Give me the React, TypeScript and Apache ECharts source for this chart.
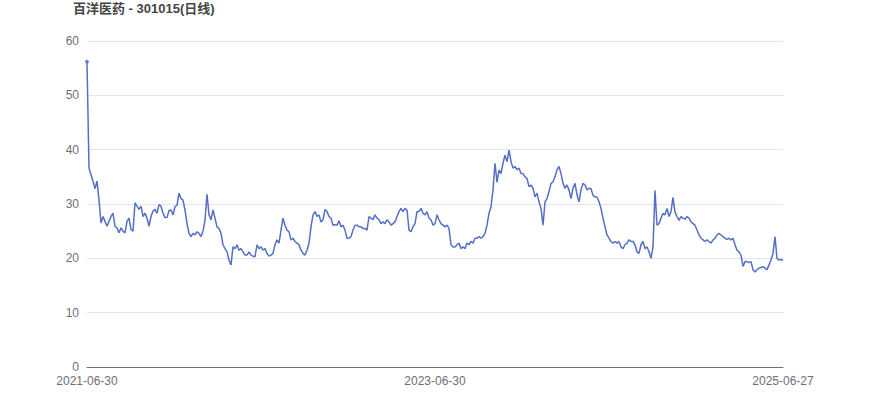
import React, { useEffect, useRef } from "react";
import * as echarts from "echarts";

const TITLE = "百洋医药 - 301015(日线)";
const START_DATE = "2021-06-30";
const END_DATE = "2025-06-27";
const DATE_STEP = 3; // every third trading weekday

const closes: number[] = [
  56.2, 36.6, 35.4, 34.2, 32.8, 34.2, 30.8, 26.5, 27.7, 26.8,
  25.9, 26.8, 27.7, 28.3, 25.9, 25.6, 24.7, 25.6, 25.0, 24.7,
  26.8, 27.4, 25.3, 25.0, 30.2, 29.6, 29.0, 29.6, 27.7, 28.3,
  27.4, 25.9, 27.7, 28.7, 29.0, 28.3, 29.9, 29.6, 28.3, 27.5,
  27.5, 28.8, 28.9, 28.0, 29.5, 29.8, 32.0, 31.0, 30.7, 28.9,
  26.4, 24.6, 24.0, 24.6, 24.3, 24.9, 24.6, 24.0, 25.0, 27.0,
  31.8, 28.0, 27.1, 28.9, 27.4, 25.8, 25.5, 24.6, 22.5, 21.8,
  21.2, 19.7, 18.8, 22.1, 21.8, 22.5, 21.5, 21.8, 21.2, 20.6,
  20.6, 21.2, 20.6, 20.4, 20.3, 22.5, 21.8, 22.1, 21.5, 21.8,
  20.9, 20.4, 20.6, 20.9, 22.5, 23.4, 22.8, 25.2, 27.4, 26.1,
  25.2, 24.9, 23.4, 23.7, 23.1, 22.8, 22.5, 21.5, 20.9, 20.6,
  21.5, 22.8, 25.8, 28.0, 28.6, 27.7, 28.0, 26.7, 27.1, 29.0,
  28.6, 27.7, 27.4, 26.1, 26.2, 26.1, 26.9, 25.8, 26.1, 25.2,
  23.7, 23.7, 24.0, 25.2, 26.1, 26.1, 25.8, 25.8, 25.5, 25.5,
  25.2, 27.7, 27.4, 27.1, 28.0, 27.4, 27.1, 26.4, 26.7, 26.4,
  27.1, 26.7, 26.1, 26.4, 26.7, 27.7, 28.6, 29.2, 28.6, 29.2,
  28.9, 25.2, 24.9, 25.8, 26.4, 28.6, 28.6, 29.2, 28.3, 28.0,
  28.6, 27.4, 27.1, 26.1, 26.4, 28.0, 27.1, 26.4, 26.1, 25.8,
  26.1, 25.5, 22.5, 22.1, 22.1, 22.5, 22.8, 21.8, 22.1, 21.8,
  22.8, 22.5, 23.1, 22.8, 23.7, 23.7, 24.0, 23.7, 24.0, 24.6,
  26.1, 28.3, 29.5, 32.6, 37.5, 34.0, 36.3, 35.6, 37.5, 39.0,
  37.8, 39.9, 37.8, 36.6, 36.9, 36.3, 36.6, 35.6, 35.6, 35.0,
  34.7, 33.2, 33.5, 32.9, 31.3, 32.0, 30.4, 29.2, 26.1, 30.4,
  31.0, 32.3, 33.8, 34.1, 35.0, 36.3, 36.9, 35.6, 33.8, 32.9,
  33.5, 32.6, 31.0, 32.9, 33.8, 31.7, 30.4, 32.6, 33.8, 33.5,
  32.6, 32.9, 32.8, 31.6, 31.3, 31.3, 30.4, 29.2, 27.4, 25.8,
  24.3, 23.7, 23.1, 22.8, 23.1, 22.8, 23.1, 22.1, 21.8, 22.5,
  22.8, 23.4, 23.1, 23.1, 22.5, 21.2, 20.9, 22.5, 23.1, 21.8,
  22.1, 21.2, 20.0, 22.1, 32.5, 26.1, 26.4, 27.4, 28.3, 28.0,
  29.2, 27.7, 28.6, 31.2, 28.5, 27.7, 27.0, 27.7, 27.4, 27.2,
  27.7, 27.4, 26.7, 26.4, 26.1, 25.2, 24.3, 23.7, 23.4, 23.1,
  23.4, 23.1, 22.8, 23.4, 23.7, 24.3, 24.6, 24.3, 24.0, 23.7,
  23.5, 23.7, 23.4, 23.7, 22.5, 21.5, 21.2, 20.6, 18.5, 19.4,
  19.4, 19.2, 19.4, 17.9, 17.5, 17.9, 18.2, 18.3, 18.5, 18.2,
  17.9, 18.8, 19.7, 20.9, 24.0, 20.0, 19.7, 19.8, 19.6,
];

const yTicks = { min: 0, max: 60, interval: 10 };

function buildDates(start: string, end: string, step: number, count: number): string[] {
  const toStr = (d: Date) => d.toISOString().slice(0, 10);
  const weekdays: string[] = [];
  const d = new Date(start + "T00:00:00Z");
  const e = new Date(end + "T00:00:00Z");
  while (d.getTime() <= e.getTime()) {
    const wd = d.getUTCDay();
    if (wd !== 0 && wd !== 6) weekdays.push(toStr(d));
    d.setUTCDate(d.getUTCDate() + 1);
  }
  const out: string[] = [];
  for (let i = 0; i < weekdays.length; i += step) out.push(weekdays[i]);
  if (out[out.length - 1] !== end) out.push(end);
  while (out.length > count) out.splice(out.length - 2, 1);
  return out;
}

const dates = buildDates(START_DATE, END_DATE, DATE_STEP, closes.length);

export default function App() {
  const ref = useRef<HTMLDivElement>(null);
  useEffect(() => {
    if (!ref.current) return;
    const chart = echarts.init(ref.current, undefined, { renderer: "svg" });
    const last = dates.length - 1;
    const mid = Math.round(last / 2);
    chart.setOption({
      animation: false,
      textStyle: { fontFamily: "Liberation Sans, Noto Sans CJK SC, sans-serif" },
      title: {
        text: TITLE,
        left: 73,
        top: 2,
        padding: 0,
        textStyle: {
          fontSize: 13,
          fontWeight: "bold",
          color: "#464646",
          fontFamily: "Liberation Sans, Noto Sans CJK SC, sans-serif",
        },
      },
      grid: { left: 87, right: 87, top: 41, bottom: 50, containLabel: false },
      xAxis: {
        type: "category",
        data: dates,
        boundaryGap: false,
        axisTick: { show: false },
        axisLine: { lineStyle: { color: "#6E7079" } },
        axisLabel: {
          color: "#6E7079",
          fontSize: 12,
          interval: (idx: number) => idx === 0 || idx === mid || idx === last,
        },
        splitLine: { show: false },
      },
      yAxis: {
        type: "value",
        min: yTicks.min,
        max: yTicks.max,
        interval: yTicks.interval,
        axisLabel: { color: "#6E7079", fontSize: 12 },
        splitLine: { lineStyle: { color: "#E0E6F1" } },
      },
      series: [
        {
          type: "line",
          data: closes,
          showSymbol: false,
          lineStyle: { color: "#5470c6", width: 1.5 },
          itemStyle: { color: "#5470c6" },
        },
        {
          type: "scatter",
          data: [[0, closes[0]]],
          symbolSize: 4,
          itemStyle: { color: "#5470c6" },
          silent: true,
        },
      ],
    });
    return () => chart.dispose();
  }, []);
  return (
    <div
      ref={ref}
      style={{ position: "absolute", left: 0, top: 0, width: 870, height: 417 }}
    />
  );
}
